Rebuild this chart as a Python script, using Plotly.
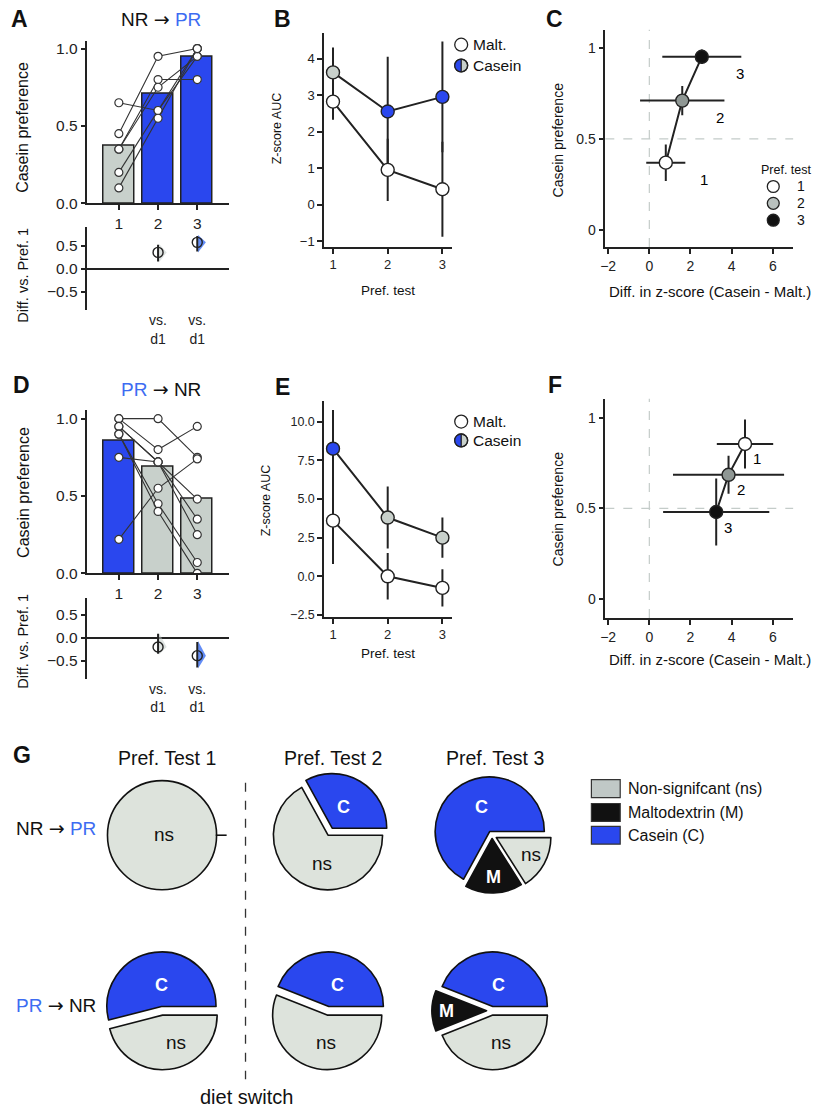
import math
import plotly.graph_objects as go

W, H = 817, 1118
FONT = "Liberation Sans, Arial, sans-serif"
BLUE = "#2a47ee"
TBLUE = "#3d6cf2"
GBAR = "#c8d0cb"
NSCOL = "#dde3dc"
DARK = "#222222"
GREY2 = "#8f9794"
ARROW = "<span style='font-family:DejaVu Sans'>→</span>"

# ---------------- data ----------------
tests = [1, 2, 3]

# Panel A (NR -> PR)
A_bar = [0.37, 0.71, 0.95]
A_test1 = [0.65, 0.45, 0.35, 0.35, 0.20, 0.10]
A_test2 = [0.60, 0.95, 0.80, 0.75, 0.60, 0.55]
A_test3 = [0.95, 1.00, 0.80, 0.95, 1.00, 1.00]
diff_x = [2, 3]
A_diff = [0.36, 0.58]
A_diff_lo = [0.16, 0.38]
A_diff_hi = [0.53, 0.72]

# Panel B
B_malt = [2.82, 0.95, 0.42]
B_malt_err = [0.50, 0.85, 1.30]
B_cas = [3.62, 2.55, 2.95]
B_cas_err = [0.68, 1.50, 1.52]

# Panel C
C_x = [0.80, 1.60, 2.55]
C_xerr = [0.95, 2.05, 1.92]
C_y = [0.37, 0.71, 0.95]
C_yerr = [0.10, 0.08, 0.04]

# Panel D (PR -> NR)
D_bar = [0.86, 0.69, 0.48]
D_test1 = [1.00, 1.00, 0.95, 0.95, 0.90, 0.90, 0.75, 0.22]
D_test2 = [1.00, 0.80, 0.72, 0.72, 0.45, 0.40, 0.72, 0.55]
D_test3 = [0.75, 0.95, 0.48, 0.35, 0.07, 0.00, 0.25, 0.74]
D_diff = [-0.20, -0.39]
D_diff_lo = [-0.35, -0.65]
D_diff_hi = [0.09, -0.09]

# Panel E
E_malt = [3.6, 0.0, -0.75]
E_malt_err = [2.8, 1.5, 1.2]
E_cas = [8.25, 3.8, 2.5]
E_cas_err = [2.5, 2.0, 1.3]

# Panel F
F_x = [4.65, 3.85, 3.25]
F_xerr = [1.37, 2.70, 2.58]
F_y = [0.855, 0.685, 0.48]
F_yerr = [0.135, 0.105, 0.185]

# Panel G (percent of rats; order ns, M, C)
pie_labels = ["ns", "M", "C"]
G_NRPR = [[100, 0, 0], [67, 0, 33], [16, 17, 67]]
G_PRNR = [[46, 0, 54], [56, 0, 44], [44, 12, 44]]
G_pull_NRPR = [[0, 0, 0], [0.0, 0, 0.15], [0.09, 0.06, 0.08]]
G_pull_PRNR = [[0.08, 0, 0.08], [0.08, 0, 0.08], [0.08, 0.1, 0.08]]

# ---------------- helpers (reference pixel -> paper) ----------------
def px(x):
    return x / W

def py(y):
    return 1 - y / H

def xd(a, b):
    return [px(a), px(b)]

def yd(top, bottom):
    return [py(bottom), py(top)]

def tf(size):
    return dict(size=size, color="#222", family=FONT)

def axis(**kw):
    d = dict(showline=True, linecolor=DARK, linewidth=1.5, ticks="outside",
             ticklen=5, tickwidth=1.5, tickcolor=DARK, showgrid=False,
             zeroline=False, fixedrange=True, tickfont=tf(13))
    d.update(kw)
    return d

fig = go.Figure()
annotations = []
shapes = []

def ann(x, y, text, size=12, xanchor="center", color="#111", angle=0, bold=False):
    annotations.append(dict(x=px(x), y=py(y), xref="paper", yref="paper",
                            text=("<b>%s</b>" % text) if bold else text,
                            showarrow=False, xanchor=xanchor, yanchor="middle",
                            textangle=angle,
                            font=dict(size=size, color=color, family=FONT)))

def circle(cx, cy, r, fill, line=DARK, width=1.3):
    shapes.append(dict(type="circle", xref="paper", yref="paper",
                       x0=px(cx - r), x1=px(cx + r), y0=py(cy + r), y1=py(cy - r),
                       fillcolor=fill, line=dict(color=line, width=width)))

def half_left(cx, cy, r, fill):
    pts = []
    n = 24
    for i in range(n + 1):
        a = math.pi / 2 + math.pi * i / n
        pts.append((cx + r * math.cos(a), cy - r * math.sin(a)))
    path = "M " + " L ".join("%.5f,%.5f" % (px(x), py(y)) for x, y in pts) + " Z"
    shapes.append(dict(type="path", xref="paper", yref="paper", path=path,
                       fillcolor=fill, line=dict(width=0)))

def errkw(arr, arrm=None):
    d = dict(type="data", array=arr, color=DARK, thickness=2, width=0, visible=True)
    if arrm is not None:
        d["symmetric"] = False
        d["arrayminus"] = arrm
    return d

# ---------------- Panel A / D bars ----------------
def bar_panel(xa, ya, bars, colors, t1, t2, t3):
    fig.add_trace(go.Bar(x=tests, y=bars, width=0.8, marker=dict(color=colors,
                         line=dict(color=DARK, width=1.5)), xaxis=xa, yaxis=ya,
                         showlegend=False, hoverinfo="skip"))
    for a, b, c in zip(t1, t2, t3):
        fig.add_trace(go.Scatter(x=tests, y=[a, b, c], mode="lines+markers",
                                 line=dict(color="#333", width=1.1),
                                 marker=dict(size=8, color="white", line=dict(color="#333", width=1.2)),
                                 xaxis=xa, yaxis=ya, showlegend=False, hoverinfo="skip"))

bar_panel("x", "y", A_bar, [GBAR, BLUE, BLUE], A_test1, A_test2, A_test3)
bar_panel("x5", "y5", D_bar, [BLUE, GBAR, GBAR], D_test1, D_test2, D_test3)

def diff_panel(xa, ya, m, lo, hi, vcols):
    # half-violin (bootstrap distribution) drawn as a wedge next to each estimate
    for xi, mi, l, h, vc in zip(diff_x, m, lo, hi, vcols):
        fig.add_trace(go.Scatter(x=[xi + 0.02, xi + 0.02 + 0.2, xi + 0.02, xi + 0.02],
                                 y=[h + 0.02, mi, l - 0.02, h + 0.02], fill="toself",
                                 fillcolor=vc, line=dict(width=0), mode="lines",
                                 xaxis=xa, yaxis=ya, showlegend=False, hoverinfo="skip"))
    fig.add_trace(go.Scatter(x=diff_x, y=m, mode="markers",
                             error_y=errkw([h - mm for h, mm in zip(hi, m)],
                                           [mm - l for l, mm in zip(lo, m)]),
                             marker=dict(size=10, color="rgba(255,255,255,0)",
                                         line=dict(color=DARK, width=1.4)),
                             xaxis=xa, yaxis=ya, showlegend=False, hoverinfo="skip"))

diff_panel("x2", "y2", A_diff, A_diff_lo, A_diff_hi, ["rgba(190,200,195,0.5)", "rgba(70,120,245,0.85)"])
diff_panel("x6", "y6", D_diff, D_diff_lo, D_diff_hi, ["rgba(190,200,195,0.5)", "rgba(70,120,245,0.85)"])

# ---------------- Panel B / E ----------------
def z_panel(xa, ya, malt, malt_err, cas, cas_err, cas_cols):
    fig.add_trace(go.Scatter(x=tests, y=cas, mode="lines", line=dict(color=DARK, width=2),
                             error_y=errkw(cas_err), xaxis=xa, yaxis=ya,
                             showlegend=False, hoverinfo="skip"))
    fig.add_trace(go.Scatter(x=tests, y=malt, mode="lines", line=dict(color=DARK, width=2),
                             error_y=errkw(malt_err), xaxis=xa, yaxis=ya,
                             showlegend=False, hoverinfo="skip"))
    fig.add_trace(go.Scatter(x=tests, y=cas, mode="markers",
                             marker=dict(size=13, color=cas_cols, line=dict(color=DARK, width=1.4)),
                             xaxis=xa, yaxis=ya, showlegend=False, hoverinfo="skip"))
    fig.add_trace(go.Scatter(x=tests, y=malt, mode="markers",
                             marker=dict(size=13, color="white", line=dict(color=DARK, width=1.4)),
                             xaxis=xa, yaxis=ya, showlegend=False, hoverinfo="skip"))

z_panel("x3", "y3", B_malt, B_malt_err, B_cas, B_cas_err, [GBAR, BLUE, BLUE])
z_panel("x7", "y7", E_malt, E_malt_err, E_cas, E_cas_err, [BLUE, GBAR, GBAR])

# ---------------- Panel C / F ----------------
def sc_panel(xa, ya, xs, xe, ys, ye):
    fig.add_trace(go.Scatter(x=xs, y=ys, mode="lines+markers",
                             line=dict(color=DARK, width=2),
                             error_x=errkw(xe), error_y=errkw(ye),
                             marker=dict(size=13, color=["white", GREY2, "#111"],
                                         line=dict(color=DARK, width=1.4)),
                             xaxis=xa, yaxis=ya, showlegend=False, hoverinfo="skip"))

sc_panel("x4", "y4", C_x, C_xerr, C_y, C_yerr)
sc_panel("x8", "y8", F_x, F_xerr, F_y, F_yerr)

for xa, ya in [("x4", "y4"), ("x8", "y8")]:
    shapes.append(dict(type="line", xref=xa, yref=ya + " domain", x0=0, x1=0, y0=0, y1=1,
                       line=dict(color="#c4ccc9", width=1.2, dash="dash"), layer="below"))
    shapes.append(dict(type="line", xref=xa + " domain", yref=ya, x0=0, x1=1, y0=0.5, y1=0.5,
                       line=dict(color="#c4ccc9", width=1.2, dash="dash"), layer="below"))

for i, t in enumerate(["1", "2", "3"]):
    annotations.append(dict(x=C_x[i], y=C_y[i], xref="x4", yref="y4", text=t, showarrow=False,
                            xshift=38, yshift=-17, font=dict(size=15, color="black", family=FONT)))
    annotations.append(dict(x=F_x[i], y=F_y[i], xref="x8", yref="y8", text=t, showarrow=False,
                            xshift=12, yshift=-15, font=dict(size=15, color="black", family=FONT)))

# ---------------- Panel G pies ----------------
pie_cols = [NSCOL, "#111111", BLUE]
R = 55

def add_pie(cx, cy, vals, pulls):
    idx = [i for i, v in enumerate(vals) if v > 0]
    mp = max([pulls[i] for i in idx])
    half = R * (1 + mp)
    fig.add_trace(go.Pie(values=[vals[i] for i in idx], labels=[pie_labels[i] for i in idx],
                         textinfo="none",
                         marker=dict(colors=[pie_cols[i] for i in idx], line=dict(color="#111", width=1.6)),
                         pull=[pulls[i] for i in idx], sort=False, direction="clockwise",
                         rotation=90, showlegend=False, hoverinfo="skip",
                         domain=dict(x=[px(cx - half), px(cx + half)], y=[py(cy + half), py(cy - half)])))

row_y = [841, 1018]
col_x = [158, 325, 490]
for j in range(3):
    add_pie(col_x[j], row_y[0], G_NRPR[j], G_pull_NRPR[j])
    add_pie(col_x[j], row_y[1], G_PRNR[j], G_pull_PRNR[j])

# slice labels
def slice_label(x, y, lab):
    if lab == "ns":
        ann(x, y, "ns", size=19, color="#111")
    else:
        ann(x, y, lab, size=18, color="white", bold=True)

for (x, y, lab) in [(160, 840, "ns"),
                    (341, 813, "C"), (319, 870, "ns"),
                    (479, 813, "C"), (492, 883, "M"), (529, 860, "ns"),
                    (157, 992, "C"), (172, 1050, "ns"),
                    (335, 992, "C"), (323, 1050, "ns"),
                    (497, 992, "C"), (444, 1018, "M"), (499, 1050, "ns")]:
    slice_label(x, y, lab)

# small radial tick of the empty casein wedge on test 1
shapes.append(dict(type="line", xref="paper", yref="paper", x0=px(212), x1=px(223),
                   y0=py(841), y1=py(841), line=dict(color="#111", width=1.6)))

# diet switch dashed line
shapes.append(dict(type="line", xref="paper", yref="paper", x0=px(242), x1=px(242),
                   y0=py(788), y1=py(1087), line=dict(color="#333", width=1.3, dash="dash")))

# G legend
for k, (col, lab) in enumerate([("#c0c8c6", "Non-signifcant (ns)"), ("#111111", "Maltodextrin (M)"),
                                 (BLUE, "Casein (C)")]):
    yc = [794, 818, 841][k]
    shapes.append(dict(type="rect", xref="paper", yref="paper", x0=px(590), x1=px(619),
                       y0=py(yc + 9), y1=py(yc - 9), fillcolor=col, line=dict(color="#333", width=1.2)))
    ann(625, yc, lab, size=16, xanchor="left")

# ---------------- legends B / E / C ----------------
for (y1, y2) in [(44, 65), (424, 443)]:
    circle(459, y1, 6.5, "white")
    ann(469, y1, "Malt.", size=15.5, xanchor="left")
    circle(459, y2, 6.5, GBAR)
    half_left(459, y2, 6.5, BLUE)
    circle(459, y2, 6.5, "rgba(0,0,0,0)")
    shapes.append(dict(type="line", xref="paper", yref="paper", x0=px(459), x1=px(459),
                       y0=py(y2 - 6.5), y1=py(y2 + 6.5), line=dict(color=DARK, width=1.3)))
    ann(469, y2, "Casein", size=15.5, xanchor="left")

ann(759, 170, "Pref. test", size=12.5, xanchor="left")
for k, col in enumerate(["white", "#b9c1be", "#111"]):
    yc = [187, 204, 221][k]
    circle(773, yc, 6, col)
    ann(795, yc, str(k + 1), size=14, xanchor="left")

# ---------------- text ----------------
for x, y, t in [(15, 18, "A"), (279, 18, "B"), (553, 18, "C"), (17, 387, "D"),
                (279, 389, "E"), (553, 387, "F"), (17, 760, "G")]:
    ann(x, y, t, size=23, bold=True)

ann(157, 18, "NR %s <span style='color:%s'>PR</span>" % (ARROW, TBLUE), size=19)
ann(157, 391, "<span style='color:%s'>PR</span> %s NR" % (TBLUE, ARROW), size=19)

ann(18, 127, "Casein preference", size=16, angle=-90)
ann(18, 276, "Diff. vs. Pref. 1", size=14.5, angle=-90)
ann(18, 495, "Casein preference", size=16, angle=-90)
ann(18, 645, "Diff. vs. Pref. 1", size=14.5, angle=-90)
ann(274, 128, "Z-score AUC", size=12.5, angle=-90)
ann(263, 503, "Z-score AUC", size=12.5, angle=-90)
ann(385, 292, "Pref. test", size=13.5)
ann(385, 658, "Pref. test", size=13.5)
ann(556, 140, "Casein preference", size=14, angle=-90)
ann(556, 512, "Casein preference", size=14, angle=-90)
ann(709, 293, "Diff. in z-score (Casein - Malt.)", size=15)
ann(709, 664, "Diff. in z-score (Casein - Malt.)", size=15)

ann(163, 763, "Pref. Test 1", size=19.5)
ann(330, 763, "Pref. Test 2", size=19.5)
ann(493, 763, "Pref. Test 3", size=19.5)
ann(51, 834, "NR %s <span style='color:%s'>PR</span>" % (ARROW, TBLUE), size=19)
ann(51, 1012, "<span style='color:%s'>PR</span> %s NR" % (TBLUE, ARROW), size=19)
ann(243, 1105, "diet switch", size=20)

# ---------------- axes ----------------
vs = ["vs.<br>d1", "vs.<br>d1"]
lay = dict(
    xaxis=axis(domain=xd(83, 225), range=[0.2, 3.8], anchor="y", tickvals=tests, tickfont=tf(15.5)),
    yaxis=axis(domain=yd(40, 204), range=[0, 1.051], anchor="x", tickvals=[0, 0.5, 1],
               tickformat=".1f", tickfont=tf(15.5)),
    xaxis2=axis(domain=xd(83, 225), range=[0.2, 3.8], anchor="y2", showline=False, ticks="",
                tickvals=diff_x, ticktext=vs, tickfont=tf(14)),
    yaxis2=axis(domain=yd(228, 312), range=[-0.913, 0.913], anchor="x2", tickvals=[-0.5, 0, 0.5],
                tickformat=".1f", zeroline=True, zerolinecolor=DARK, zerolinewidth=1.5,
                tickfont=tf(15.5)),
    xaxis3=axis(domain=xd(321, 450), range=[0.836, 3.18], anchor="y3", tickvals=tests),
    yaxis3=axis(domain=yd(32, 248), range=[-1.163, 4.707], anchor="x3", tickvals=[-1, 0, 1, 2, 3, 4]),
    xaxis4=axis(domain=xd(604, 793), range=[-2.14, 6.99], anchor="y4", tickvals=[-2, 0, 2, 4, 6],
                tickfont=tf(14)),
    yaxis4=axis(domain=yd(29, 248), range=[-0.092, 1.098], anchor="x4", tickvals=[0, 0.5, 1],
                ticktext=["0", "0.5", "1"], tickfont=tf(14)),
    xaxis5=axis(domain=xd(83, 225), range=[0.2, 3.8], anchor="y5", tickvals=tests, tickfont=tf(15.5)),
    yaxis5=axis(domain=yd(412, 577), range=[0, 1.058], anchor="x5", tickvals=[0, 0.5, 1],
                tickformat=".1f", tickfont=tf(15.5)),
    xaxis6=axis(domain=xd(83, 225), range=[0.2, 3.8], anchor="y6", showline=False, ticks="",
                tickvals=diff_x, ticktext=vs, tickfont=tf(14)),
    yaxis6=axis(domain=yd(602, 683), range=[-0.89, 0.87], anchor="x6", tickvals=[-0.5, 0, 0.5],
                tickformat=".1f", zeroline=True, zerolinecolor=DARK, zerolinewidth=1.5,
                tickfont=tf(15.5)),
    xaxis7=axis(domain=xd(321, 450), range=[0.836, 3.18], anchor="y7", tickvals=tests),
    yaxis7=axis(domain=yd(403, 621), range=[-2.63, 11.35], anchor="x7",
                tickvals=[-2.5, 0, 2.5, 5, 7.5, 10], tickformat=".1f", tickfont=tf(12.5)),
    xaxis8=axis(domain=xd(604, 793), range=[-2.14, 6.99], anchor="y8", tickvals=[-2, 0, 2, 4, 6],
                tickfont=tf(14)),
    yaxis8=axis(domain=yd(401, 622), range=[-0.104, 1.104], anchor="x8", tickvals=[0, 0.5, 1],
                ticktext=["0", "0.5", "1"], tickfont=tf(14)),
)

fig.update_layout(**lay)
fig.update_layout(width=W, height=H, margin=dict(l=0, r=0, t=0, b=0),
                  paper_bgcolor="white", plot_bgcolor="rgba(0,0,0,0)",
                  font=dict(family=FONT, color="#111"), bargap=0,
                  annotations=annotations, shapes=shapes, showlegend=False)

# figure placed at the window's top-left corner (no default page margin), no mode bar
fig.write_html("out.html", config={"displayModeBar": False},
               post_script="document.body.style.margin='0';document.documentElement.style.overflow='hidden';")
